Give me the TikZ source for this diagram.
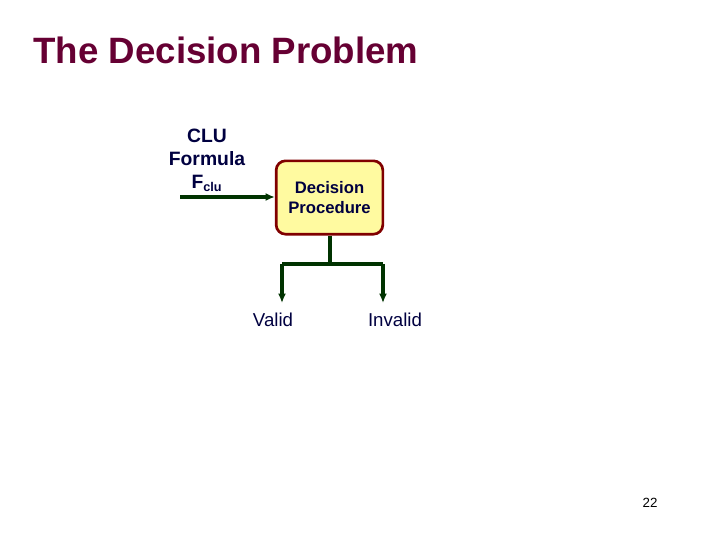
\documentclass[tikz,border=0pt]{standalone}
\usepackage{fontspec}
\setmainfont{Liberation Sans}
\usetikzlibrary{positioning,arrows.meta}
\definecolor{titlered}{RGB}{102,0,51}
\definecolor{txtblue}{RGB}{0,0,64}
\definecolor{wiregreen}{RGB}{0,51,0}
\definecolor{boxfill}{RGB}{255,250,160}
\definecolor{boxline}{RGB}{128,0,0}
\tikzset{every picture/.style={line width=0.75pt}}

\begin{document}
\begin{tikzpicture}[x=0.75pt,y=0.75pt,yscale=-1,xscale=1,
  wire/.style={draw=wiregreen, line width=3pt},
  tip/.style={wire, -{Latex[length=7pt,width=6pt]}},
  label/.style={text=txtblue, font=\fontsize{14}{16}\selectfont, inner sep=0.75pt}]
\useasboundingbox (0,0) rectangle (719,539);

% Title
\node (title) [anchor=west, text=titlered, inner sep=0pt, font=\bfseries\fontsize{27.5}{30}\selectfont] at (33,50) {The Decision Problem};

% Decision box
\node (dp) [draw=boxline, fill=boxfill, line width=2pt, rounded corners=7pt, minimum width=80pt, minimum height=55pt, align=center, text=txtblue, font=\bfseries\fontsize{12.5}{15}\selectfont] at (329.5,197.5) {Decision\\Procedure};

% Input
\node (input) [label, align=center, font=\bfseries\fontsize{14.5}{17.3}\selectfont] at (207,160) {CLU\\Formula\\F\textsubscript{\fontsize{9.5}{10}\selectfont clu}};
\coordinate (start) at (180,197);
\draw [tip] (start) -- (dp.west |- start);

% Outputs
\coordinate (split) at (330,264);
\node (valid) [label] at (273,320) {Valid};
\node (invalid) [label] at (395,320) {Invalid};
\coordinate (vend) at (282,303);
\coordinate (iend) at (383,303);
\draw [wire] (dp.south -| split) -- (split);
\draw [wire] (vend |- split) -- (iend |- split);
\draw [tip] (vend |- split) -- (vend);
\draw [tip] (iend |- split) -- (iend);

% Page number
\node (page) [inner sep=0pt, font=\fontsize{10}{12}\selectfont] at (650,503) {22};
\end{tikzpicture}
\end{document}
